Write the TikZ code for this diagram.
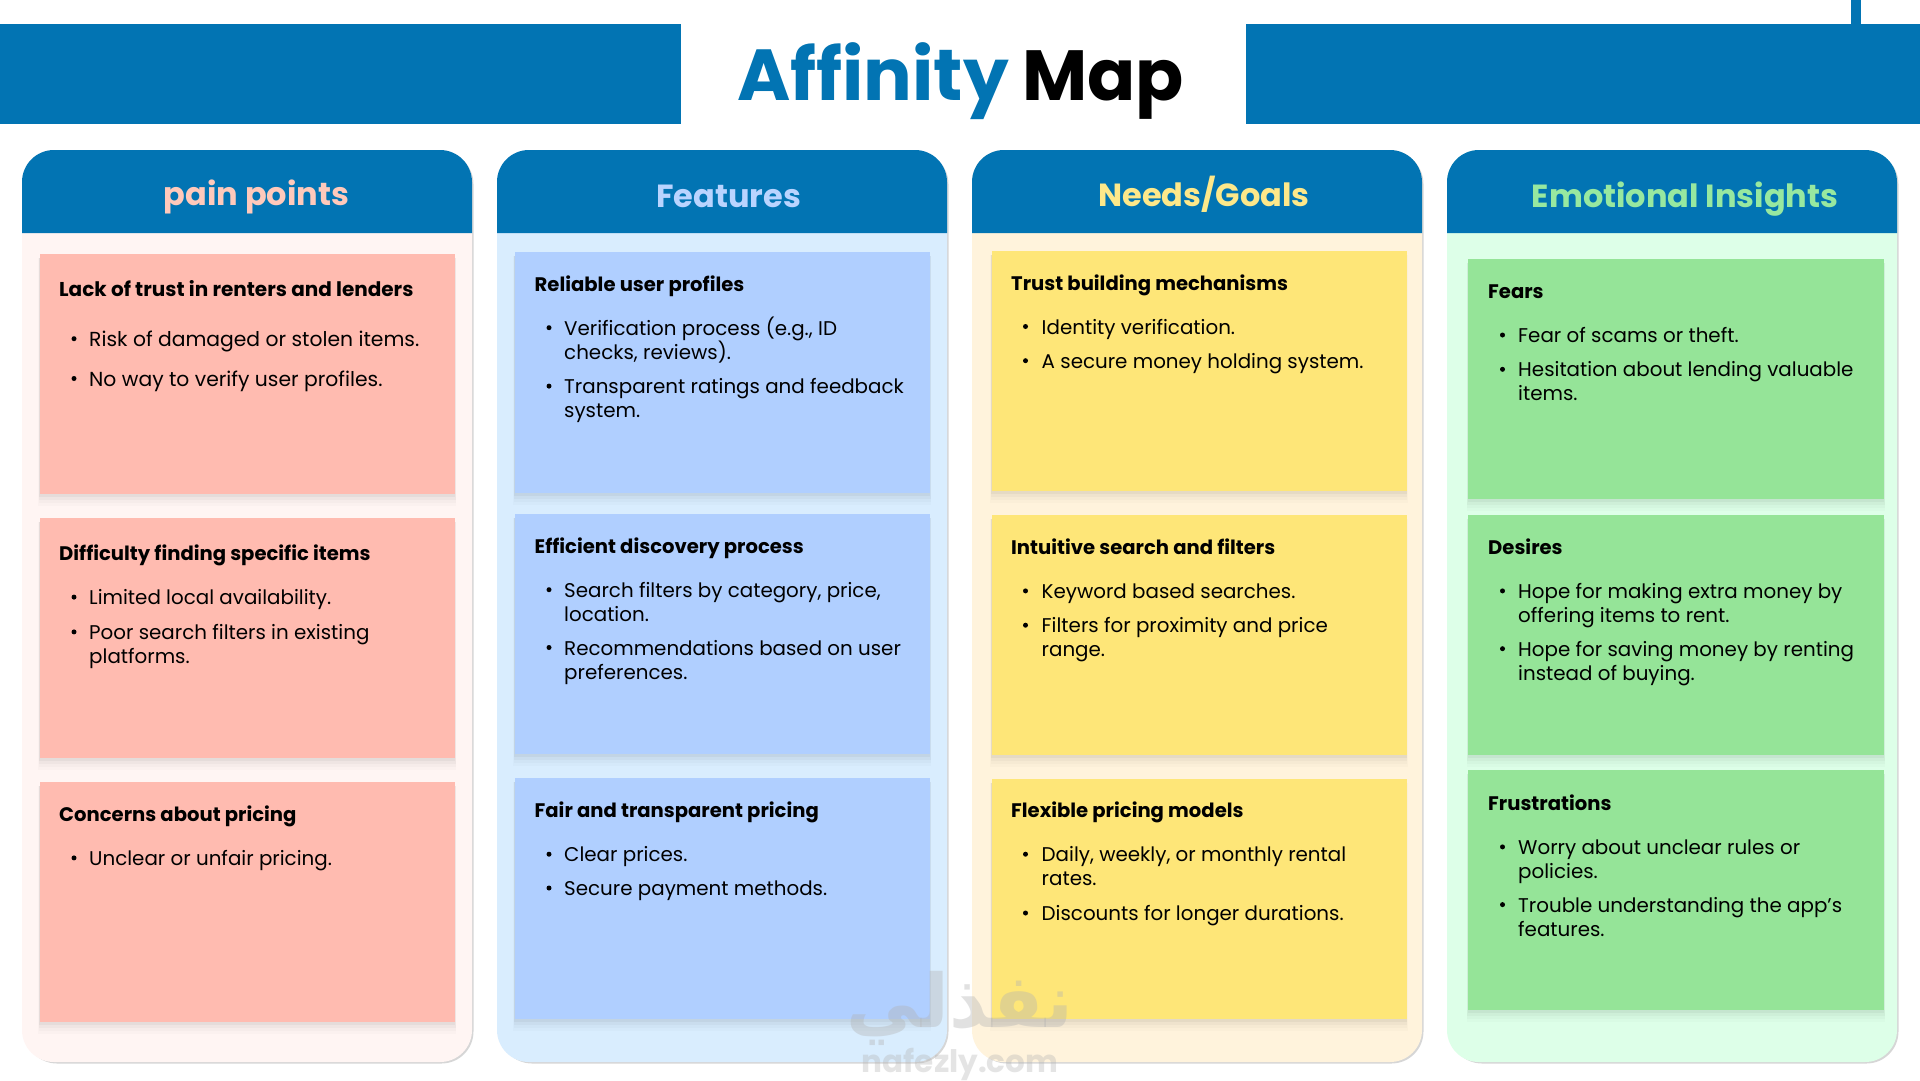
\documentclass[tikz,border=0pt]{standalone}
\usepackage{fontspec}
\setmainfont{Poppins}
\newfontfamily\popbold{Poppins}[BoldFont=* Bold]
\newfontfamily\arabicfont[Script=Arabic]{DejaVu Sans}
\TeXXeTstate=1
\definecolor{brand}{HTML}{0274B3}
\definecolor{bgA}{HTML}{FFF5F3}\definecolor{bgB}{HTML}{D9EDFE}\definecolor{bgC}{HTML}{FFF3DC}\definecolor{bgD}{HTML}{DDFFE8}
\definecolor{cdA}{HTML}{FFBBB0}\definecolor{cdB}{HTML}{B0CFFF}\definecolor{cdC}{HTML}{FEE678}\definecolor{cdD}{HTML}{95E498}
\definecolor{hdA}{HTML}{FFC9BB}\definecolor{hdB}{HTML}{B9D4FF}\definecolor{hdC}{HTML}{FDE88A}\definecolor{hdD}{HTML}{97E8A0}
\tikzset{
  x=1pt,y=-1pt,
  txt/.style={inner sep=0pt,anchor=base west,align=left,text=black},
  cardtitle/.style={txt,font=\popbold\bfseries\fontsize{19.6}{24}\selectfont},
  cardbody/.style={txt,font=\fontsize{19.85}{24}\selectfont},
  coltitle/.style={inner sep=0pt,anchor=base,font=\popbold\bfseries\fontsize{32}{38}\selectfont},
  dotmark/.style={circle,fill=black,inner sep=0pt,minimum size=5pt},
}
\newcommand{\column}[4]{% x1, x2, bg, name
  \fill[black,opacity=.16] (#1+3,152) [rounded corners=32] rectangle (#2+1.5,1063.5);
  \fill[#3,rounded corners=32] (#1,150) rectangle (#2,1062);
  \fill[brand] (#1,233) {[rounded corners=32] -- (#1,150) -- (#2,150)} -- (#2,233) -- cycle;
}
\newcommand{\card}[5]{% x1,y1,x2,y2,colour
  \foreach \s/\o in {12/.014,9/.02,6/.028,3/.04}{
    \fill[black,opacity=\o] (#1-\s*.1,#2+4) rectangle (#3+\s*.1,#4+\s);
  }
  \fill[#5] (#1,#2) rectangle (#3,#4);
}
\newcommand{\ttl}[4]{\node[cardtitle] (#1) at (#2,#3) {#4};}
\newcommand{\bul}[5]{% name, bullet x, text x, baseline, text
  \node[dotmark] (#1d) at (#2,#4-7.5) {};
  \node[cardbody] (#1) at (#3,#4) {#5};
}
\newcommand{\bull}[5]{% two-line item: a node's base is its last line
  \node[dotmark] (#1d) at (#2,#4-7.5) {};
  \node[cardbody] (#1) at (#3,#4+24) {#5};
}
\begin{document}
\begin{tikzpicture}
\useasboundingbox (0,0) rectangle (1920,1080);
\fill[white] (0,0) rectangle (1920,1080);
% top band
\fill[brand] (0,24) rectangle (681,124);
\fill[brand] (1246,24) rectangle (1920,124);
\fill[brand] (1851,0) rectangle (1860.5,24);
\node[inner sep=0pt,anchor=base west,text=brand,font=\popbold\bfseries\fontsize{72.3}{80}\selectfont] (titleA) at (737,100) {Affinity};
\node[inner sep=0pt,anchor=base west,text=black,font=\popbold\bfseries\fontsize{71}{80}\selectfont] (titleB) at (1022,100) {Map};
% columns
\column{22}{472}{bgA}{a}
\column{497}{947}{bgB}{b}
\column{972}{1422}{bgC}{c}
\column{1447}{1897}{bgD}{d}
\node[coltitle,text=hdA] (headA) at (256.5,205) {pain points};
\node[coltitle,text=hdB] (headB) at (728.5,207.5) {Features};
\node[coltitle,text=hdC] (headC) at (1204,206) {Needs/Goals};
\node[coltitle,text=hdD] (headD) at (1685,207.5) {Emotional Insights};
% cards
\card{39.5}{254}{455}{494}{cdA}
\card{39.5}{518}{455}{758}{cdA}
\card{39.5}{782}{455}{1022}{cdA}
\card{514.5}{252}{930}{492.5}{cdB}
\card{514.5}{514}{930}{754}{cdB}
\card{514.5}{778}{930}{1019}{cdB}
\card{991.5}{251}{1406.5}{491}{cdC}
\card{991.5}{515}{1406.5}{755}{cdC}
\card{991.5}{779}{1406.5}{1019}{cdC}
\card{1468}{259}{1884}{499}{cdD}
\card{1468}{515}{1884}{755}{cdD}
\card{1468}{770}{1884}{1010}{cdD}
% column 1
\ttl{a1}{59}{296}{\fontsize{20}{24}\selectfont Lack of trust in renters and lenders}
\bul{a1a}{74}{89}{346.2}{\fontsize{20.3}{24}\selectfont Risk of damaged or stolen items.}
\bul{a1b}{74}{89}{386}{\fontsize{20.3}{24}\selectfont No way to verify user profiles.}
\ttl{a2}{59}{560.5}{Difficulty finding specific items}
\bul{a2a}{74}{89}{604.6}{Limited local availability.}
\bull{a2b}{74}{89}{639.4}{Poor search filters in existing\\platforms.}
\ttl{a3}{59}{821.3}{Concerns about pricing}
\bul{a3a}{74}{89}{865.4}{Unclear or unfair pricing.}
% column 2
\ttl{b1}{534.5}{291}{Reliable user profiles}
\bull{b1a}{549}{564}{335.2}{Verification process (e.g., ID\\checks, reviews).}
\bull{b1b}{549}{564}{393.6}{Transparent ratings and feedback\\system.}
\ttl{b2}{534.5}{553}{Efficient discovery process}
\bull{b2a}{549}{564}{597.2}{Search filters by category, price,\\location.}
\bull{b2b}{549}{564}{655}{Recommendations based on user\\preferences.}
\ttl{b3}{534.5}{817.6}{Fair and transparent pricing}
\bul{b3a}{549}{564}{861.7}{Clear prices.}
\bul{b3b}{549}{564}{895.5}{Secure payment methods.}
% column 3
\ttl{c1}{1011}{290.4}{Trust building mechanisms}
\bul{c1a}{1025.5}{1041.5}{334}{Identity verification.}
\bul{c1b}{1025.5}{1041.5}{368.2}{A secure money holding system.}
\ttl{c2}{1011}{554.4}{Intuitive search and filters}
\bul{c2a}{1025.5}{1041.5}{598.4}{Keyword based searches.}
\bull{c2b}{1025.5}{1041.5}{632.7}{Filters for proximity and price\\range.}
\ttl{c3}{1011}{817.6}{Flexible pricing models}
\bull{c3a}{1025.5}{1041.5}{861.7}{Daily, weekly, or monthly rental\\rates.}
\bul{c3b}{1025.5}{1041.5}{920.5}{Discounts for longer durations.}
% column 4
\ttl{d1}{1488}{298.4}{Fears}
\bul{d1a}{1502.5}{1518}{342.5}{Fear of scams or theft.}
\bull{d1b}{1502.5}{1518}{376.8}{Hesitation about lending valuable\\items.}
\ttl{d2}{1488}{554.4}{Desires}
\bull{d2a}{1502.5}{1518}{598.4}{Hope for making extra money by\\offering items to rent.}
\bull{d2b}{1502.5}{1518}{656.2}{Hope for saving money by renting\\instead of buying.}
\ttl{d3}{1488}{810.3}{Frustrations}
\bull{d3a}{1502.5}{1518}{854.4}{Worry about unclear rules or\\policies.}
\bull{d3b}{1502.5}{1518}{912.1}{Trouble understanding the app’s\\features.}
% watermark
\node[inner sep=0pt,anchor=base,text=gray!60,opacity=.38,font=\arabicfont\bfseries\fontsize{74}{80}\selectfont] (wmA) at (960,1027) {\beginR نفذلي\endR};
\node[inner sep=0pt,anchor=base,text=gray!60,opacity=.35,font=\popbold\bfseries\fontsize{31}{34}\selectfont] (wmB) at (960,1072) {nafezly.com};
\end{tikzpicture}
\end{document}
